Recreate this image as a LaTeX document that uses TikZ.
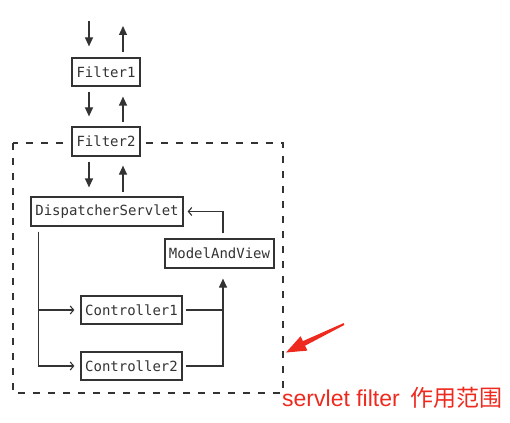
\documentclass[tikz,border=0pt]{standalone}
\usepackage{fontspec}
\setmainfont{Liberation Sans}
\setmonofont{DejaVu Sans Mono}
\newfontfamily\cjk{Noto Sans CJK SC}
\usetikzlibrary{arrows.meta,calc}
\definecolor{ink}{HTML}{333333}
\definecolor{redink}{HTML}{EE2A1F}
\tikzset{
  box/.style={draw=ink, line width=1.2pt, fill=white, text=ink, inner sep=0pt,
              font=\ttfamily\fontsize{14}{16}\selectfont},
  conn/.style={draw=ink, line width=1.2pt},
  arr/.style={conn, -{Triangle[length=9pt,width=8pt]}},
  barb/.style={conn, -{Straight Barb[length=3.5pt,width=8pt,line width=1.1pt]}},
}
\begin{document}
\begin{tikzpicture}[x=1pt,y=-1pt]
\useasboundingbox (0,0) rectangle (510,422);
% dashed scope
\draw[ink, line width=1.2pt, dash pattern=on 7pt off 8pt] (13,143) rectangle (283,393);
% nodes
\node[box, minimum width=68pt, minimum height=28pt] (F1) at (106,72) {Filter1};
\node[box, minimum width=68pt, minimum height=29pt] (F2) at (106,141.5) {Filter2};
\node[box, minimum width=152pt, minimum height=29pt] (DS) at (107,211.5) {DispatcherServlet};
\node[box, minimum width=109pt, minimum height=29pt] (MV) at (219.5,253.5) {ModelAndView};
\node[box, minimum width=101pt, minimum height=28pt] (C1) at (131.5,310) {Controller1};
\node[box, minimum width=101pt, minimum height=28pt] (C2) at (131.5,366) {Controller2};
% helper coordinates
\coordinate (inTop) at (89,21);
\coordinate (outTop) at (123,26);
\coordinate (mvS) at ([xshift=3.5pt]MV.south);
\coordinate (mvN) at ([xshift=3.5pt]MV.north);
\coordinate (dsL) at ([xshift=8pt]DS.south west);
% vertical arrows
\draw[arr, shorten >=11pt] (inTop) -- (inTop |- F1.north);
\draw[arr, shorten <=5pt] (outTop |- F1.north) -- (outTop);
\draw[arr, shorten <=5pt, shorten >=10pt] (inTop |- F1.south) -- (inTop |- F2.north);
\draw[arr, shorten <=4pt, shorten >=10pt] (outTop |- F2.north) -- (outTop |- F1.south);
\draw[arr, shorten <=5pt, shorten >=9pt] (inTop |- F2.south) -- (inTop |- DS.north);
\draw[arr, shorten <=4pt, shorten >=9pt] (outTop |- DS.north) -- (outTop |- F2.south);
% dispatcher to controllers
\draw[barb, shorten <=5pt, shorten >=6pt] (dsL) |- (C1.west);
\draw[barb, shorten <=5pt, shorten >=6pt] (dsL) |- (C2.west);
% controllers to ModelAndView
\draw[conn, shorten <=3pt] (C1.east) -- (C1.east -| mvS);
\draw[arr, shorten <=3pt, shorten >=10pt] (C2.east) -| (mvS);
% ModelAndView to dispatcher
\draw[barb, shorten <=5pt, shorten >=4pt] (mvN) |- (DS.east);
% red annotation
\fill[redink] (344.4,324.9) -- (343.6,323.1) -- (302.9,341.1) -- (300.6,336.2) -- (286,352.5)
  -- (307.4,350.6) -- (305.1,345.7) -- cycle;
\node[anchor=base west, inner sep=0pt, text=redink, font=\fontsize{23}{25}\selectfont] (note) at (282,406) {servlet filter\hspace{11pt}{\cjk 作用范围}};
\end{tikzpicture}
\end{document}
